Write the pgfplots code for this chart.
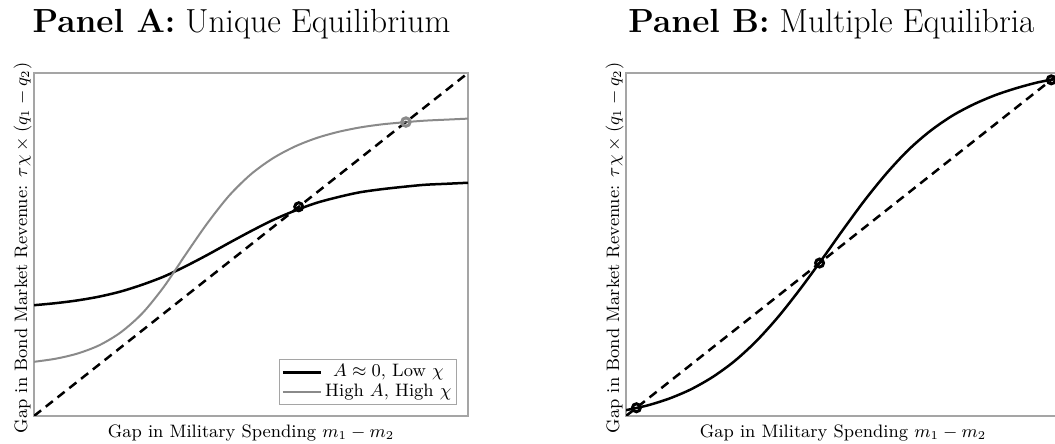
\documentclass[border=0pt]{standalone}
\usepackage{pgfplots}
\pgfplotsset{compat=1.18}
\definecolor{curvegray}{RGB}{138,138,138}
\definecolor{framegray}{RGB}{165,165,165}
\begin{document}
\begin{tikzpicture}
\pgfplotsset{
  myaxis/.style={
    scale only axis, width=217pt, height=171.5pt,
    xmin=0, xmax=1, ymin=0, ymax=1, ticks=none,
    axis line style={framegray, line width=0.7pt},
    xlabel={Gap in Military Spending $m_1 - m_2$},
    ylabel={Gap in Bond Market Revenue: $\tau\chi \times (q_1 - q_2)$},
    xlabel style={at={(axis description cs:0.5,-0.0641)}, anchor=base, inner sep=0pt},
    ylabel style={at={(axis description cs:-0.0161,0.49)}, anchor=base, inner sep=0pt},
    label style={font=\fontsize{9}{11}\selectfont},
  },
  diag/.style={black, line width=1.25pt, dash pattern=on 4.5pt off 3pt, forget plot},
}
% ---------------- Panel A ----------------
\begin{axis}[myaxis, at={(17pt,14pt)}, anchor=south west,
  legend style={at={(0.9747,0.032)}, anchor=south east, draw=framegray,
    font=\small, inner sep=1pt, row sep=-1pt, line width=0.6pt,
    nodes={inner sep=1.5pt}},
  legend image code/.code={\draw[#1] (0pt,0pt) -- (19pt,0pt);},
]
\addplot[diag] coordinates {(0,0) (1,1)};
\addplot[black, line width=1.25pt, smooth] coordinates {
(0.00,0.323) (0.05,0.329) (0.10,0.337) (0.15,0.348) (0.20,0.363)
(0.25,0.383) (0.30,0.407) (0.35,0.437) (0.40,0.470) (0.45,0.505)
(0.50,0.539) (0.55,0.571) (0.60,0.598) (0.65,0.621) (0.70,0.638)
(0.75,0.652) (0.80,0.661) (0.85,0.668) (0.90,0.674) (0.95,0.677)
(1.00,0.680)};
\addlegendentry{$A \approx 0$, Low $\chi$}
\addplot[curvegray, line width=1pt, smooth] coordinates {
(0.00,0.158) (0.05,0.167) (0.10,0.182) (0.15,0.206) (0.20,0.244)
(0.25,0.300) (0.30,0.378) (0.35,0.472) (0.40,0.563) (0.45,0.643)
(0.50,0.705) (0.55,0.751) (0.60,0.785) (0.65,0.810) (0.70,0.828)
(0.75,0.841) (0.80,0.850) (0.85,0.856) (0.90,0.861) (0.95,0.864)
(1.00,0.867)};
\addlegendentry{High $A$, High $\chi$}
\addplot[only marks, mark=o, mark size=2pt, line width=1.5pt, black, forget plot]
  coordinates {(0.610,0.610)};
\addplot[only marks, mark=o, mark size=2.1pt, line width=1.5pt, curvegray, forget plot]
  coordinates {(0.857,0.857)};
\addplot[only marks, mark=*, mark size=0.5pt, black!70, forget plot]
  coordinates {(0.857,0.857)};
\end{axis}
% ---------------- Panel B ----------------
\begin{axis}[myaxis, at={(313pt,14pt)}, anchor=south west]
\addplot[diag] coordinates {(0,0) (1,1)};
\addplot[black, line width=1.25pt, smooth] coordinates {
(0.00,0.017) (0.05,0.031) (0.10,0.051) (0.15,0.078) (0.20,0.114)
(0.25,0.160) (0.30,0.218) (0.35,0.288) (0.40,0.368) (0.45,0.454)
(0.50,0.543) (0.55,0.629) (0.60,0.707) (0.65,0.775) (0.70,0.830)
(0.75,0.874) (0.80,0.908) (0.85,0.935) (0.90,0.956) (0.95,0.973)
(1.00,0.985)};
\addplot[only marks, mark=o, mark size=2pt, line width=1.5pt, black]
  coordinates {(0.024,0.024) (0.446,0.446) (0.980,0.980)};
\end{axis}
% ---------------- Titles ----------------
\node[anchor=base, font=\fontsize{16.7}{20}\selectfont] at (120.75pt,205.5pt) {\textbf{Panel A:} Unique Equilibrium};
\node[anchor=base, font=\fontsize{16.7}{20}\selectfont] at (415.75pt,205.5pt) {\textbf{Panel B:} Multiple Equilibria};
\pgfresetboundingbox
\path (0pt,0pt) rectangle (527.5pt,222pt);
\end{tikzpicture}
\end{document}
